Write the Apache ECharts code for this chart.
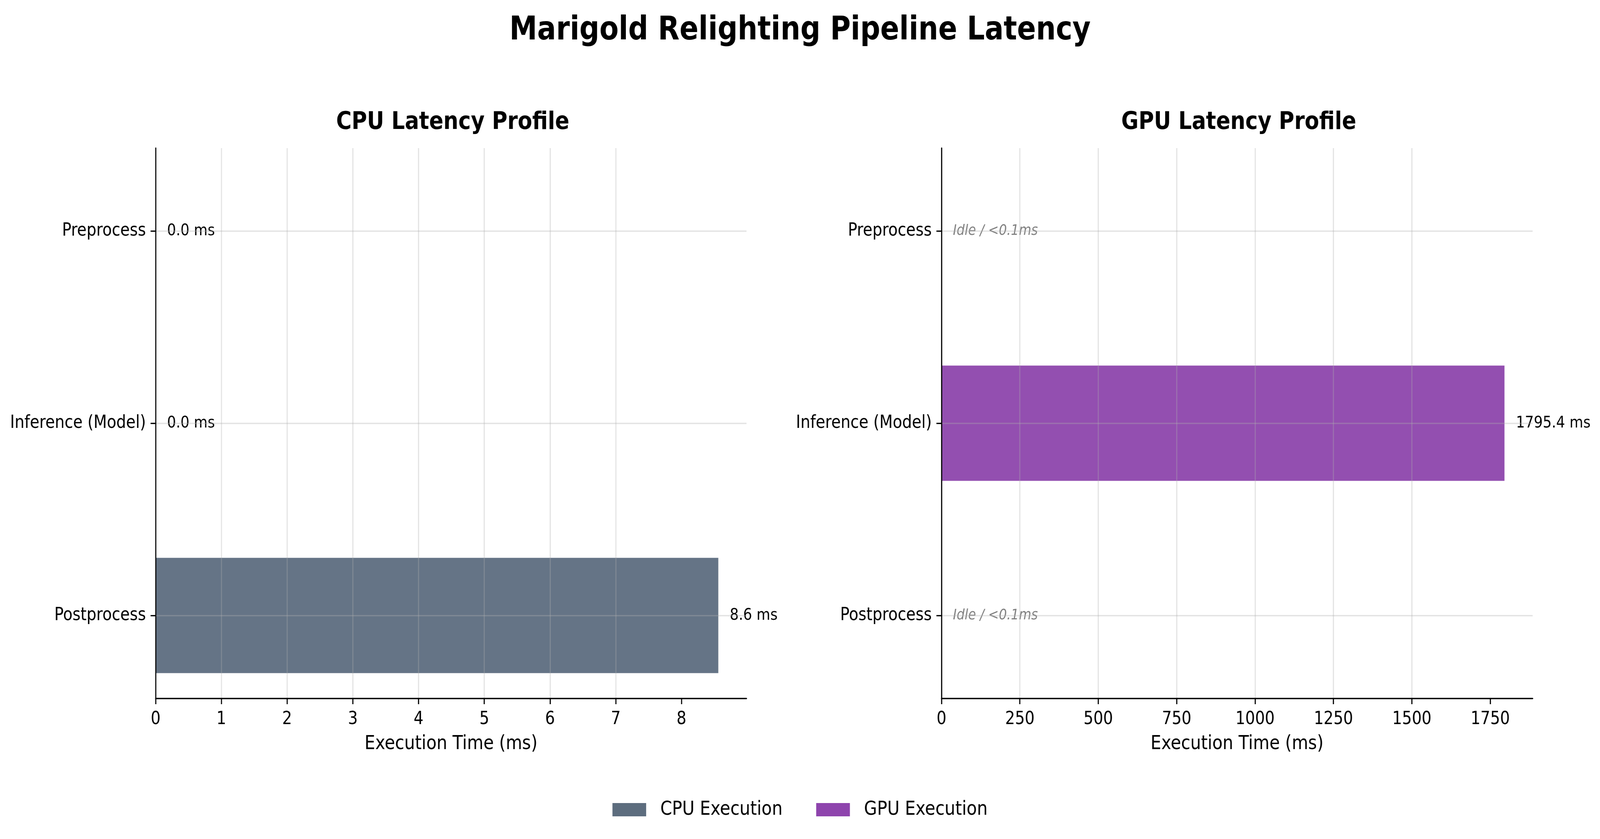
<!DOCTYPE html>
<html>
<head>
<meta charset="utf-8">
<script src="https://cdn.jsdelivr.net/npm/echarts@6/dist/echarts.min.js"></script>
<style>
html,body{margin:0;padding:0;background:#fff;overflow:hidden;}
#chart{width:4750px;height:2147px;transform-origin:0 0;}
</style>
</head>
<body>
<div id="chart"></div>
<script>
// ---- data ----
const CATEGORIES = ['Preprocess', 'Inference (Model)', 'Postprocess'];
const CPU_MS = [0.0, 0.0, 8.56];
const GPU_MS = [0.0, 1795.4, 0.0];
const CPU_TICKS = [0, 1, 2, 3, 4, 5, 6, 7, 8];
const GPU_TICKS = [0, 250, 500, 750, 1000, 1250, 1500, 1750];
const SERIES_NAMES = ['CPU Execution', 'GPU Execution'];
const PANEL_TITLES = ['CPU Latency Profile', 'GPU Latency Profile'];
const MAIN_TITLE = 'Marigold Relighting Pipeline Latency';
const AXIS_NAME = 'Execution Time (ms)';
const IDLE_TEXT = 'Idle / <0.1ms';

// fit the 4750x2147 design into the actual window
const DESIGN_W = 4750, DESIGN_H = 2147;
const el = document.getElementById('chart');
const sx = window.innerWidth / DESIGN_W, sy = window.innerHeight / DESIGN_H;
el.style.transform = 'scale(' + sx + ',' + sy + ')';

// ---- styles ----
const FONT = 'DejaVu Sans';
const LEGEND_COLORS = ['#5d6d7e', '#8e44ad'];
const BAR_COLORS = ['#657486', '#934fb0'];
const GRID_COLOR = 'rgba(176,176,176,0.35)';
const LW = 3.3;

const cpuMax = Math.max(...CPU_MS) * 1.05;
const gpuMax = Math.max(...GPU_MS) * 1.05;

const panels = [
  {left: 462, width: 1754, max: cpuMax, ticks: CPU_TICKS, data: CPU_MS, idle: false},
  {left: 2795, width: 1755, max: gpuMax, ticks: GPU_TICKS, data: GPU_MS, idle: true}
];

const grid = [], xAxis = [], yAxis = [], series = [], titles = [];
titles.push({
  text: MAIN_TITLE, left: 'center', top: 33,
  textStyle: {fontFamily: FONT, fontSize: 83, fontWeight: 'bold', color: '#000'}
});

panels.forEach((p, i) => {
  grid.push({left: p.left, width: p.width, top: 379, height: 1408, containLabel: false});
  grid.push({left: p.left, width: p.width, top: 591, height: 984, containLabel: false});
  const gA = i * 2, gB = i * 2 + 1;

  xAxis.push({
    type: 'value', gridIndex: gA, min: 0, max: p.max, z: 5,
    name: AXIS_NAME, nameLocation: 'middle', nameGap: 92,
    nameTextStyle: {fontFamily: FONT, fontSize: 50, color: '#000'},
    axisLine: {show: true, lineStyle: {color: '#000', width: LW}},
    axisTick: {show: true, length: 15, customValues: p.ticks, lineStyle: {color: '#000', width: LW}},
    axisLabel: {show: true, customValues: p.ticks, margin: 31, fontFamily: FONT, fontSize: 45.8, color: '#000',
      formatter: (v) => String(v)},
    splitLine: {show: true, showMinLine: false, showMaxLine: false, lineStyle: {color: GRID_COLOR, width: LW}}
  });
  xAxis.push({type: 'value', gridIndex: gB, min: 0, max: p.max, show: false});

  yAxis.push({
    type: 'value', gridIndex: gA, min: 0, max: 1, z: 5,
    axisLine: {show: true, lineStyle: {color: '#000', width: LW}},
    axisTick: {show: false}, axisLabel: {show: false}, splitLine: {show: false}
  });
  yAxis.push({
    type: 'category', gridIndex: gB, data: CATEGORIES, boundaryGap: false, inverse: true, z: 5,
    axisLine: {show: false},
    axisTick: {show: true, length: 15, lineStyle: {color: '#000', width: LW}},
    axisLabel: {show: true, margin: 29, fontFamily: FONT, fontSize: 45.8, color: '#000'},
    splitLine: {show: true, lineStyle: {color: GRID_COLOR, width: LW}}
  });

  const data = p.data.map(v => {
    if (p.idle && v === 0) {
      return {value: v, label: {formatter: IDLE_TEXT, fontStyle: 'italic', color: '#808080', fontSize: 37.5}};
    }
    return v;
  });

  series.push({
    type: 'bar', name: SERIES_NAMES[i], xAxisIndex: gB, yAxisIndex: gB,
    data: data, barWidth: 295, clip: false, z: 2,
    itemStyle: {color: BAR_COLORS[i]},
    label: {
      show: true, position: 'right', distance: 34,
      fontFamily: FONT, fontSize: 41.7, color: '#000',
      formatter: (prm) => prm.value.toFixed(1) + ' ms'
    }
  });

  titles.push({
    text: PANEL_TITLES[i], left: p.left + p.width / 2, top: 277, textAlign: 'center',
    textStyle: {fontFamily: FONT, fontSize: 62.5, fontWeight: 'bold', color: '#000'}
  });
});

const chart = echarts.init(el, null, {renderer: 'canvas', width: DESIGN_W, height: DESIGN_H});
chart.setOption({
  backgroundColor: '#fff',
  animation: false,
  title: titles,
  grid: grid,
  xAxis: xAxis,
  yAxis: yAxis,
  series: series,
  legend: {
    left: 'center', top: 2042,
    itemWidth: 100, itemHeight: 34, itemGap: 100,
    icon: 'rect',
    data: SERIES_NAMES.map((n, i) => ({name: n, itemStyle: {color: LEGEND_COLORS[i]}})),
    textStyle: {fontFamily: FONT, fontSize: 50, color: '#000', padding: [0, 0, 0, 37]}
  }
});
</script>
</body>
</html>
